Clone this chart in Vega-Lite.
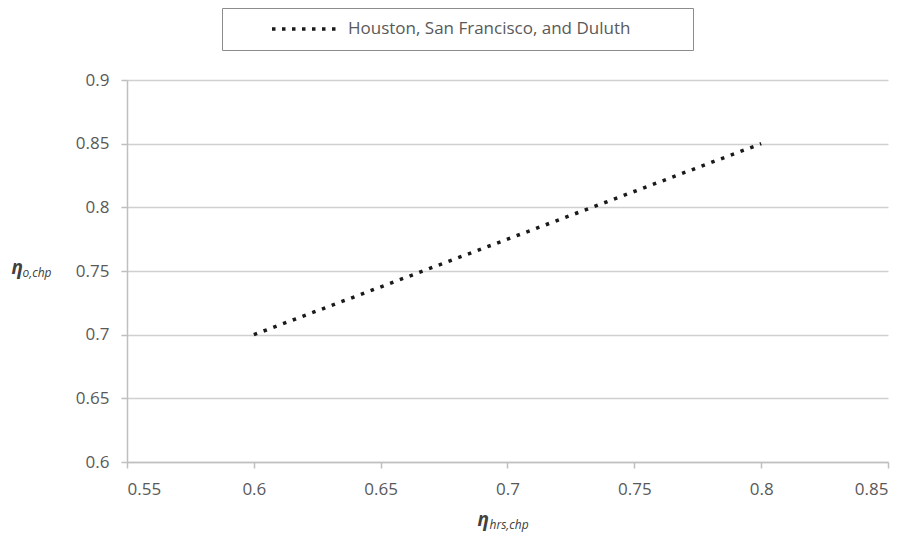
{
  "$schema": "https://vega.github.io/schema/vega-lite/v6.json",
  "width": 761,
  "height": 382,
  "autosize": "none",
  "padding": {"left": 127, "top": 80, "right": 23, "bottom": 79},
  "background": "white",
  "config": {
    "view": {"stroke": null},
    "font": "Open Sans",
    "axis": {
      "labelFont": "Open Sans",
      "labelFontSize": 17,
      "labelColor": "#595959",
      "domainColor": "#bfbfbf",
      "domainWidth": 1.5,
      "tickColor": "#bfbfbf",
      "tickWidth": 1.5,
      "tickSize": 6,
      "gridColor": "#d0d0d0",
      "gridWidth": 1.5
    }
  },
  "data": {
    "values": [
      {"eta_hrs": 0.6, "eta_o": 0.7, "series": "Houston, San Francisco, and Duluth"},
      {"eta_hrs": 0.8, "eta_o": 0.85, "series": "Houston, San Francisco, and Duluth"}
    ]
  },
  "layer": [
    {
      "mark": {"type": "line", "strokeWidth": 3.5, "strokeDash": [3.5, 6.9]},
      "encoding": {
        "x": {
          "field": "eta_hrs",
          "type": "quantitative",
          "scale": {"domain": [0.55, 0.85], "nice": false, "zero": false},
          "axis": {
            "values": [0.55, 0.6, 0.65, 0.7, 0.75, 0.8, 0.85],
            "format": ".2~f",
            "grid": false,
            "labelPadding": 13,
            "title": "η",
            "titleFont": "Open Sans",
            "titleFontSize": 19,
            "titleFontWeight": "bold",
            "titleFontStyle": "italic",
            "titleColor": "#404040",
            "titleAlign": "left",
            "titleBaseline": "alphabetic",
            "titleX": 350,
            "titleY": 63
          }
        },
        "y": {
          "field": "eta_o",
          "type": "quantitative",
          "scale": {"domain": [0.6, 0.9], "nice": false, "zero": false},
          "axis": {
            "values": [0.6, 0.65, 0.7, 0.75, 0.8, 0.85, 0.9],
            "format": ".2~f",
            "grid": true,
            "labelPadding": 12,
            "title": "η",
            "titleFont": "Open Sans",
            "titleFontSize": 19,
            "titleFontWeight": "bold",
            "titleFontStyle": "italic",
            "titleColor": "#404040",
            "titleAngle": 0,
            "titleAlign": "left",
            "titleBaseline": "alphabetic",
            "titleX": -116,
            "titleY": 193
          }
        },
        "color": {
          "field": "series",
          "type": "nominal",
          "scale": {"range": ["#1a1a1a"]},
          "legend": {
            "title": null,
            "orient": "none",
            "legendX": 95,
            "legendY": -72,
            "direction": "horizontal",
            "strokeColor": "#8c8c8c",
            "fillColor": "white",
            "padding": 11,
            "clipHeight": 20,
            "symbolType": "stroke",
            "symbolSize": 4624,
            "symbolStrokeWidth": 3.5,
            "symbolDash": [3.5, 6.5],
            "symbolOffset": 37,
            "labelOffset": 6,
            "labelFont": "Open Sans",
            "labelFontSize": 17,
            "labelColor": "#595959",
            "labelLimit": 600,
            "labelExpr": "datum.label + '\u2003\u2003\u2003\u200b'"
          }
        }
      }
    },
    {
      "mark": {"type": "line", "strokeOpacity": 0},
      "encoding": {
        "x": {
          "field": "eta_hrs",
          "type": "quantitative",
          "axis": {
            "orient": "bottom",
            "domain": false,
            "ticks": false,
            "labels": false,
            "grid": false,
            "title": "hrs,chp",
            "titleFont": "Open Sans",
            "titleFontSize": 12,
            "titleFontWeight": "normal",
            "titleFontStyle": "italic",
            "titleColor": "#404040",
            "titleAlign": "left",
            "titleBaseline": "alphabetic",
            "titleX": 362,
            "titleY": 66
          }
        },
        "y": {
          "field": "eta_o",
          "type": "quantitative",
          "axis": {
            "orient": "left",
            "domain": false,
            "ticks": false,
            "labels": false,
            "grid": false,
            "title": "o,chp",
            "titleFont": "Open Sans",
            "titleFontSize": 12,
            "titleFontWeight": "normal",
            "titleFontStyle": "italic",
            "titleColor": "#404040",
            "titleAngle": 0,
            "titleAlign": "left",
            "titleBaseline": "alphabetic",
            "titleX": -105,
            "titleY": 196
          }
        }
      }
    }
  ],
  "resolve": {"axis": {"x": "independent", "y": "independent"}}
}
